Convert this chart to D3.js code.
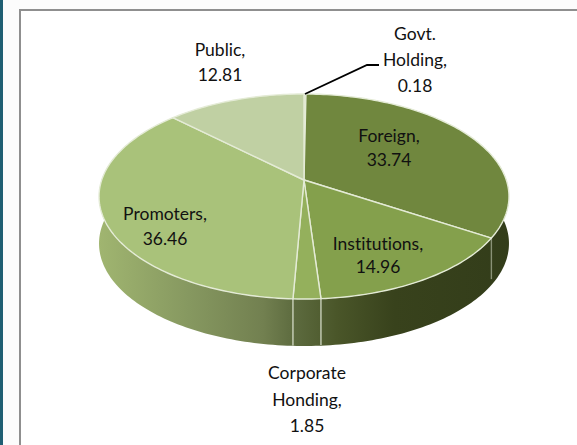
<!DOCTYPE html>
<html>
<head>
<meta charset="utf-8">
<script src="https://cdn.jsdelivr.net/npm/d3@7"></script>
<style>
  html, body { margin: 0; padding: 0; background: #fcfcfc; }
  svg { display: block; }
  text { font-family: Lato, "Open Sans", sans-serif; font-size: 17.5px; fill: #111; font-variant-ligatures: none; }
</style>
</head>
<body>
<div id="chart"></div>
<script>
// Shareholding pattern, in percent, clockwise from twelve o'clock
const categories = ["Govt. Holding", "Foreign", "Institutions", "Corporate Honding", "Promoters", "Public"];
const shares = [0.18, 33.74, 14.96, 1.85, 36.46, 12.81];
const topColors = ["#d3dfbd", "#70873e", "#84a04c", "#94b05c", "#a9c27a", "#c0d0a3"];
const labelLines = [
  ["Govt.", "Holding,", "0.18"],
  ["Foreign,", "33.74"],
  ["Institutions,", "14.96"],
  ["Corporate", "Honding,", "1.85"],
  ["Promoters,", "36.46"],
  ["Public,", "12.81"]
];
const labelAnchors = [[415, 40], [389, 142], [378, 250], [307, 379], [165, 220], [220, 56]];
const lineGap = [26, 24, 23, 26.5, 25, 25];

const width = 577, height = 445;
const svg = d3.select("#chart").append("svg").attr("width", width).attr("height", height);

// Tilted disc: a circle seen in perspective, with a wall below its front rim
const cx = 304, cy = 180, a = 202.3, b = 99.85, k = 0.161, depth = 47;
const project = (angle) => {
  const u = Math.sin(angle), v = -Math.cos(angle), w = 1 - k * v;
  return [cx + a * u / w, cy + b * v / w];
};
const sweep = (a0, a1) => {
  const n = Math.max(2, Math.ceil(Math.abs(a1 - a0) / 0.02));
  return d3.range(n + 1).map(i => a0 + (a1 - a0) * i / n);
};
const line = d3.line();

const arcs = d3.pie().value(d => d).sort(null)(shares);

// Frame and side strip
svg.append("rect").attr("width", 3).attr("height", height).attr("fill", "#1f5f73");
svg.append("rect").attr("x", 20).attr("y", 10).attr("width", 580).attr("height", 460)
  .attr("fill", "#fff").attr("stroke", "#8f8f8f").attr("stroke-width", 2);

// Wall shading runs left to right across the disc
const defs = svg.append("defs");
const wallStops = [[0, "#a0b570"], [0.22, "#869860"], [0.4, "#728050"], [0.48, "#5c6a3e"], [0.58, "#4a5629"], [0.72, "#38421c"], [1, "#333d1a"]];
const grad = defs.append("linearGradient").attr("id", "wall")
  .attr("gradientUnits", "userSpaceOnUse")
  .attr("x1", cx - 205).attr("x2", cx + 205).attr("y1", 0).attr("y2", 0);
wallStops.forEach(s => grad.append("stop").attr("offset", s[0]).attr("stop-color", s[1]));

// Wall: the visible lower half of the rim and the same rim pushed down
const rimAngles = sweep(Math.PI * 0.42, Math.PI * 1.58);
const rimTop = rimAngles.map(t => project(t));
const rimBottom = rimTop.map(p => [p[0], p[1] + depth]).reverse();
svg.append("path").attr("d", line(rimTop.concat(rimBottom)) + "Z").attr("fill", "url(#wall)");

// Slice seams on the wall
arcs.forEach(d => {
  const p = project(d.endAngle);
  if (p[1] > 196) {
    svg.append("line").attr("x1", p[0]).attr("x2", p[0]).attr("y1", p[1]).attr("y2", p[1] + depth - 6 * Math.abs(p[0] - cx) / 190)
      .attr("stroke", "#dfe5d2").attr("stroke-width", 1.4).attr("opacity", p[0] > 400 ? 0.5 : 0.85);
  }
});

// Top face
svg.selectAll("path.slice").data(arcs).join("path").attr("class", "slice")
  .attr("d", d => line([[cx, cy], ...sweep(d.startAngle, d.endAngle).map(t => project(t))]) + "Z")
  .attr("fill", (d, i) => topColors[i])
  .attr("stroke", "#e4ebd6").attr("stroke-width", 1.4).attr("stroke-linejoin", "round");

// Leader line to the thinnest slice
const tip = project((arcs[0].startAngle + arcs[0].endAngle) / 2);
svg.append("path").attr("fill", "none").attr("stroke", "#000").attr("stroke-width", 1.8)
  .attr("d", line([[tip[0], tip[1]], [367, 65], [379, 65]]));

// Data labels
labelLines.forEach((lines, i) => {
  const t = svg.append("text").attr("text-anchor", "middle");
  lines.forEach((s, j) => t.append("tspan")
    .attr("x", labelAnchors[i][0]).attr("y", labelAnchors[i][1] + j * lineGap[i]).text(s));
});
</script>
</body>
</html>
